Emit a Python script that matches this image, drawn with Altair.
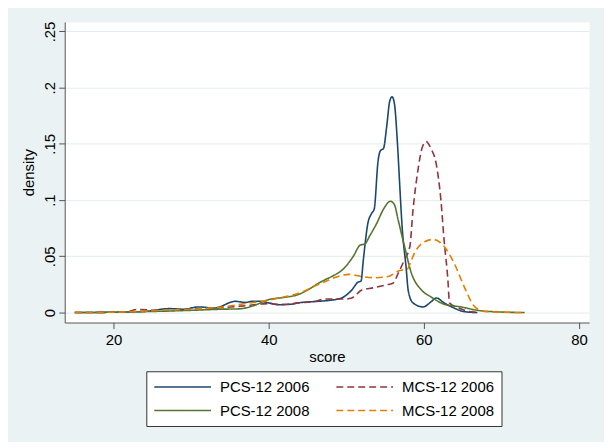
import altair as alt
import pandas as pd

FONT = "Liberation Sans, Arial, Helvetica, sans-serif"

series_names = ["PCS-12 2006", "PCS-12 2008", "MCS-12 2006", "MCS-12 2008"]
series_colors = ["#1a476f", "#55752f", "#90353b", "#e37e00"]
series_dashes = [[1, 0], [1, 0], [7, 4], [7, 4]]

pcs06_x = [15, 20, 24, 27.2, 29, 31, 33, 35.7, 37, 37.9, 39, 40, 41.3, 43, 43.8, 46.4, 48, 49.4,
           50.7, 51.5, 51.9, 52.2, 52.8, 53.25, 53.6, 54.1, 54.4, 54.8, 55.2, 55.6, 55.9, 56.2,
           56.6, 56.9, 57.2, 57.7, 58.0, 58.6, 59.9, 61.0, 61.6, 62.6, 63.9, 65.2, 66.9]
pcs06_y = [0, 0.0003, 0.001, 0.0035, 0.003, 0.005, 0.004, 0.010, 0.009, 0.010, 0.010, 0.0086, 0.007,
           0.0075, 0.0086, 0.010, 0.011, 0.013, 0.020, 0.027, 0.028, 0.047, 0.080, 0.088, 0.092,
           0.135, 0.144, 0.146, 0.165, 0.188, 0.192, 0.186, 0.150, 0.112, 0.076, 0.041, 0.019,
           0.0086, 0.005, 0.010, 0.013, 0.0086, 0.004, 0.0008, 0]

mcs06_x = [15, 20, 22, 22.9, 24.5, 26, 28, 30, 33, 35, 37, 40, 41.5, 43.8, 46, 47.2, 48.5, 49.8,
           50.7, 52.0, 53.5, 55.4, 56.0, 56.7, 57.5, 58.2, 58.6, 59.2, 59.8, 60.3, 60.9, 61.6,
           62.2, 62.6, 63.1, 63.3, 64.5, 66.1, 67]
mcs06_y = [0, 0.0003, 0.001, 0.0027, 0.0025, 0.0015, 0.002, 0.003, 0.004, 0.005, 0.006, 0.008,
           0.007, 0.0086, 0.010, 0.012, 0.012, 0.012, 0.013, 0.020, 0.022, 0.025, 0.026, 0.035,
           0.047, 0.059, 0.091, 0.125, 0.147, 0.152, 0.146, 0.132, 0.100, 0.065, 0.029, 0.0086,
           0.004, 0.0006, 0]

pcs08_x = [15, 20, 25, 30, 34, 36.2, 38, 40, 42, 43.8, 45, 46.4, 47.5, 48.1, 49.8, 50.9, 51.8,
           52.4, 53.0, 53.9, 54.8, 55.7, 56.2, 56.7, 57.5, 58.4, 59.7, 60.9, 62.6, 64.8, 66.9,
           69.5, 73]
pcs08_y = [0, 0.0003, 0.001, 0.002, 0.003, 0.0033, 0.006, 0.0115, 0.0135, 0.016, 0.020, 0.026,
           0.030, 0.032, 0.040, 0.050, 0.060, 0.061, 0.068, 0.079, 0.092, 0.099, 0.096, 0.082,
           0.059, 0.035, 0.020, 0.014, 0.0075, 0.005, 0.002, 0.0006, 0]

mcs08_x = [15, 20, 23, 26, 30, 34, 37, 40, 42, 43.8, 46.4, 48.1, 50.3, 52.0, 53.7, 55.4, 56.7,
           57.9, 58.3, 58.8, 60.1, 61.2, 62.6, 63.9, 65.2, 66.5, 67.8, 70, 73]
mcs08_y = [0, 0.0003, 0.001, 0.002, 0.003, 0.005, 0.008, 0.011, 0.014, 0.017, 0.025, 0.030,
           0.034, 0.032, 0.031, 0.032, 0.037, 0.039, 0.045, 0.053, 0.063, 0.065, 0.059, 0.044,
           0.023, 0.0056, 0.001, 0.0003, 0]

x_ticks = [20, 40, 60, 80]
y_ticks = [0, 0.05, 0.1, 0.15, 0.2, 0.25]

rows = []
for name, xs, ys in [
    ("PCS-12 2006", pcs06_x, pcs06_y),
    ("MCS-12 2006", mcs06_x, mcs06_y),
    ("PCS-12 2008", pcs08_x, pcs08_y),
    ("MCS-12 2008", mcs08_x, mcs08_y),
]:
    for xv, yv in zip(xs, ys):
        rows.append({"series": name, "score": xv, "density": yv})
df = pd.DataFrame(rows)

legend = alt.Legend(
    orient="none", legendX=82, legendY=351, columns=2,
    symbolType="M-1,0H6.6", symbolSize=225, symbolStrokeWidth=1.6,
    labelOffset=50, labelFontSize=15, labelFont=FONT, labelColor="black",
    padding=7, rowPadding=7, columnPadding=22,
    strokeColor="#333333", fillColor="white",
)

chart = alt.Chart(df).mark_line(strokeWidth=1.6, interpolate="monotone").encode(
    x=alt.X("score:Q",
            scale=alt.Scale(domain=[13.7, 81.3], nice=False, zero=False),
            axis=alt.Axis(values=x_ticks, grid=False, tickSize=6, labelPadding=4,
                          labelFontSize=15, labelFont=FONT, labelColor="black",
                          labelFlush=False, domainColor="#555555", tickColor="#555555",
                          title="score", titleFontSize=15, titleFont=FONT,
                          titleFontWeight="normal", titleColor="black",
                          titleX=263.5, titleY=39, titleBaseline="alphabetic",
                          titleAlign="center")),
    y=alt.Y("density:Q",
            scale=alt.Scale(domain=[-0.00885, 0.2584], nice=False, zero=False),
            axis=alt.Axis(values=y_ticks, grid=True, gridColor="#e2ecee", gridWidth=1,
                          tickSize=6, labelPadding=4, labelAngle=270, labelAlign="center",
                          labelBaseline="alphabetic",
                          labelExpr="datum.value == 0 ? '0' : replace(format(datum.value, '.2~f'), '0.', '.')",
                          labelFontSize=15, labelFont=FONT, labelColor="black",
                          domainColor="#555555", tickColor="#555555",
                          title="density", titleFontSize=15, titleFont=FONT,
                          titleFontWeight="normal", titleColor="black",
                          titleAngle=270, titleX=-31, titleY=151,
                          titleBaseline="alphabetic", titleAlign="center")),
    color=alt.Color("series:N", title=None,
                    scale=alt.Scale(domain=series_names, range=series_colors),
                    sort=series_names, legend=legend),
    strokeDash=alt.StrokeDash("series:N", title=None,
                              scale=alt.Scale(domain=series_names, range=series_dashes),
                              sort=series_names, legend=legend),
).properties(
    width=527, height=302,
    autosize=alt.AutoSizeParams(type="none"),
    padding={"left": 57, "top": 13, "right": 15, "bottom": 119},
    background="#eaf2f3",
).configure_view(fill="white", strokeOpacity=0)

chart.save("out.html", embed_options={"renderer": "svg", "actions": False})
